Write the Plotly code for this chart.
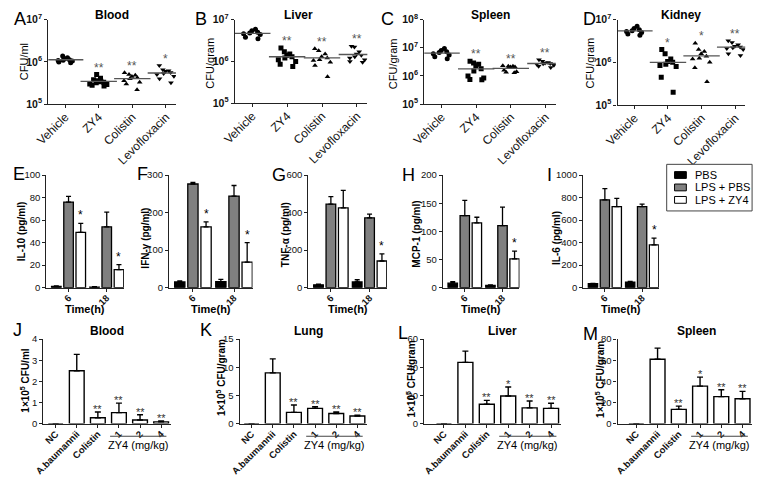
import plotly.graph_objects as go
import numpy as np

W, H = 757, 483
FONT = "Liberation Sans, Arial, Helvetica, sans-serif"

# ---------------- Row 1 : bacterial load (log scale) ----------------
groups1 = ["Vehicle", "ZY4", "Colistin", "Levofloxacin"]

blood_vehicle = [1.38e6, 1.25e6, 1.18e6, 1.12e6, 1.08e6, 1.05e6, 1.0e6, 0.96e6, 1.1e6]
blood_zy4 = [5.0e5, 4.1e5, 3.8e5, 3.6e5, 3.5e5, 3.4e5, 3.3e5, 3.2e5, 3.0e5, 2.9e5, 2.8e5, 2.7e5]
blood_colistin = [5.5e5, 5.0e5, 4.8e5, 4.5e5, 4.2e5, 4.0e5, 3.6e5, 3.3e5, 3.0e5, 2.2e5]
blood_levo = [8.2e5, 6.5e5, 6.2e5, 6.0e5, 5.6e5, 5.3e5, 5.0e5, 4.6e5, 4.0e5, 3.2e5]
blood_stars = ["", "**", "**", "*"]

liver_vehicle = [5.9e6, 5.4e6, 5.0e6, 4.8e6, 4.6e6, 4.4e6, 3.8e6, 3.5e6]
liver_zy4 = [2.1e6, 1.7e6, 1.5e6, 1.4e6, 1.3e6, 1.2e6, 1.1e6, 1.0e6, 0.85e6, 0.76e6]
liver_colistin = [2.0e6, 1.8e6, 1.5e6, 1.3e6, 1.2e6, 1.1e6, 1.05e6, 0.95e6, 0.8e6, 0.43e6]
liver_levo = [2.3e6, 2.2e6, 1.7e6, 1.5e6, 1.4e6, 1.3e6, 1.2e6, 1.1e6, 1.0e6, 0.95e6]
liver_stars = ["", "**", "**", "**"]

spleen_vehicle = [9.5e6, 8.0e6, 7.2e6, 6.8e6, 6.2e6, 5.6e6, 4.8e6, 4.1e6]
spleen_zy4 = [3.3e6, 2.9e6, 2.6e6, 2.3e6, 1.8e6, 1.5e6, 1.0e6, 0.85e6, 0.75e6, 0.73e6]
spleen_colistin = [2.3e6, 2.2e6, 2.2e6, 2.1e6, 2.1e6, 2.0e6, 1.6e6, 1.4e6, 1.35e6, 1.3e6]
spleen_levo = [3.8e6, 3.3e6, 3.0e6, 2.9e6, 2.8e6, 2.7e6, 2.6e6, 2.4e6, 2.2e6, 2.0e6]
spleen_stars = ["", "**", "**", "**"]

kidney_vehicle = [7.0e6, 6.2e6, 5.8e6, 5.5e6, 5.3e6, 5.0e6, 4.6e6, 4.3e6]
kidney_zy4 = [2.0e6, 1.6e6, 1.2e6, 1.05e6, 1.0e6, 0.9e6, 0.85e6, 0.8e6, 0.45e6, 0.2e6]
kidney_colistin = [2.8e6, 2.0e6, 1.8e6, 1.6e6, 1.4e6, 1.25e6, 1.2e6, 1.0e6, 0.75e6, 0.35e6]
kidney_levo = [3.2e6, 2.9e6, 2.6e6, 2.4e6, 2.3e6, 2.2e6, 2.1e6, 2.0e6, 1.6e6, 1.45e6]
kidney_stars = ["", "*", "*", "**"]

# ---------------- Row 2 : cytokines ----------------
times = ["6", "18"]
series2 = ["PBS", "LPS + PBS", "LPS + ZY4"]

il10_pbs, il10_pbs_err = [1.0, 0.5], [0.5, 0.3]
il10_lps, il10_lps_err = [76, 54], [5, 13]
il10_zy4, il10_zy4_err = [49, 16], [8, 4.5]
il10_stars = ["*", "*"]

ifn_pbs, ifn_pbs_err = [15, 16], [3, 6]
ifn_lps, ifn_lps_err = [276, 244], [4, 28]
ifn_zy4, ifn_zy4_err = [162, 68], [13, 52]
ifn_stars = ["*", "*"]

tnf_pbs, tnf_pbs_err = [15, 30], [3, 12]
tnf_lps, tnf_lps_err = [445, 372], [40, 20]
tnf_zy4, tnf_zy4_err = [425, 142], [93, 38]
tnf_stars = ["", "*"]

mcp_pbs, mcp_pbs_err = [8, 4], [2.5, 1]
mcp_lps, mcp_lps_err = [128, 110], [27, 33]
mcp_zy4, mcp_zy4_err = [115, 51], [10, 14]
mcp_stars = ["", "*"]

il6_pbs, il6_pbs_err = [35, 48], [3, 8]
il6_lps, il6_lps_err = [780, 720], [100, 22]
il6_zy4, il6_zy4_err = [720, 380], [72, 60]
il6_stars = ["", "*"]

# ---------------- Row 3 : dose response ----------------
groups3 = ["NC", "A.baumannii", "Colistin", "1", "2", "4"]
j_blood, j_blood_err = [0, 2.5, 0.28, 0.52, 0.17, 0.08], [0, 0.78, 0.27, 0.45, 0.25, 0.04]
j_stars = ["", "", "**", "**", "**", "**"]
k_lung, k_lung_err = [0, 9.0, 2.0, 2.7, 1.8, 1.35], [0, 2.5, 1.3, 0.3, 0.25, 0.15]
k_stars = ["", "", "**", "**", "**", "**"]
l_liver, l_liver_err = [0, 43.5, 13.7, 19.6, 11.2, 10.8], [0, 8, 2.8, 6.4, 4.8, 3.7]
l_stars = ["", "", "**", "*", "**", "**"]
m_spleen, m_spleen_err = [0, 61, 13.5, 35.5, 25.5, 23.5], [0, 10.5, 3, 8.5, 6.5, 7]
m_stars = ["", "", "**", "*", "**", "**"]

# ---------------------------------------------------------------
def fx(x):
    return x / W

def fy(y):
    return 1 - y / H

fig = go.Figure()
layout = {}
annotations = []
shapes = []

def names(k):
    return ("x" if k == 1 else f"x{k}"), ("y" if k == 1 else f"y{k}")

def axis_common():
    return dict(showline=True, linecolor="#222", linewidth=1.4, ticks="outside",
                ticklen=3, tickwidth=1.4, tickcolor="#222", showgrid=False,
                zeroline=False)

def set_axes(k, xdom, ydom, xrange, yrange, ytype="linear", xfont=None, yfont=None,
             ytickvals=None, yticktext=None, dtick=None, cats=None, xticktext=None):
    xn, yn = names(k)
    xa = axis_common()
    xa.update(domain=[fx(xdom[0]), fx(xdom[1])], range=xrange, anchor=yn,
              type="category", categoryorder="array", categoryarray=cats,
              tickangle=-45, tickfont=xfont, ticklabelstandoff=-3)
    if xticktext is not None:
        xa.update(tickvals=cats, ticktext=xticktext)
    ya = axis_common()
    ya.update(domain=[fy(ydom[1]), fy(ydom[0])], range=yrange, anchor=xn, type=ytype,
              tickfont=yfont)
    if ytickvals is not None:
        ya.update(tickvals=ytickvals, ticktext=yticktext)
    if dtick is not None:
        ya.update(dtick=dtick, tick0=0)
    layout["xaxis" if k == 1 else f"xaxis{k}"] = xa
    layout["yaxis" if k == 1 else f"yaxis{k}"] = ya
    return xn, yn

def letter(t, x, y):
    annotations.append(dict(text=t, x=fx(x), y=fy(y), xref="paper", yref="paper",
                            showarrow=False, font=dict(size=18, color="black", family=FONT),
                            xanchor="center", yanchor="middle"))

def text(t, x, y, size=11, bold=False, angle=0, color="black", xanchor="center"):
    s = f"<b>{t}</b>" if bold else t
    annotations.append(dict(text=s, x=fx(x), y=fy(y), xref="paper", yref="paper",
                            showarrow=False, textangle=angle,
                            font=dict(size=size, color=color, family=FONT),
                            xanchor=xanchor, yanchor="middle"))

# ---------------- Row 1 ----------------
symbols1 = ["circle", "square", "triangle-up", "triangle-down"]
row1 = [
    ("A", "Blood", "CFU/ml", [blood_vehicle, blood_zy4, blood_colistin, blood_levo], blood_stars,
     (35, 165), (12, 99), [5, 7], (6, 11), 100, (11, 55)),
    ("B", "Liver", "CFU/gram", [liver_vehicle, liver_zy4, liver_colistin, liver_levo], liver_stars,
     (225, 360), (12, 98), [5, 7], (191, 11), 290, (200, 57)),
    ("C", "Spleen", "CFU/gram", [spleen_vehicle, spleen_zy4, spleen_colistin, spleen_levo], spleen_stars,
     (418, 552), (12, 99), [5, 8], (381, 11), 485, (387, 57)),
    ("D", "Kidney", "CFU/gram", [kidney_vehicle, kidney_zy4, kidney_colistin, kidney_levo], kidney_stars,
     (615, 745), (12, 100), [5, 7], (586, 11), 680, (587, 57)),
]
for i, (L, title, ytitle, data, stars, xd, yd, yr, lpos, tx, ytpos) in enumerate(row1):
    k = i + 1
    exps = list(range(yr[0], yr[1] + 1))
    xn, yn = set_axes(k, xd, yd, [-0.5, 3.3], yr, ytype="log",
                      xfont=dict(size=12, color="#111", family=FONT),
                      yfont=dict(size=10.5, color="#111", family=FONT),
                      ytickvals=[10.0 ** e for e in exps],
                      yticktext=[f"<b>10<sup>{e}</sup></b>" for e in exps],
                      cats=groups1)
    for g, vals, sym, st in zip(groups1, data, symbols1, stars):
        fig.add_trace(go.Box(x=[g] * len(vals), y=vals, xaxis=xn, yaxis=yn,
                             boxpoints="all", jitter=0.9, pointpos=0, width=0.7,
                             fillcolor="rgba(0,0,0,0)", line=dict(color="rgba(0,0,0,0)", width=0),
                             marker=dict(symbol=sym, size=5, color="black"),
                             showlegend=False, hoverinfo="y"))
        fig.add_trace(go.Scatter(x=[g], y=[float(np.mean(vals))], xaxis=xn, yaxis=yn, mode="markers",
                                 marker=dict(symbol="line-ew", size=26, color="#555",
                                             line=dict(width=1.3, color="#555")),
                                 showlegend=False, hoverinfo="skip"))
        if st:
            annotations.append(dict(text=st, x=groups1.index(g), y=float(np.log10(max(vals))),
                                    xref=xn, yref=yn, showarrow=False, yanchor="bottom", yshift=-2,
                                    font=dict(size=12, color="#555", family=FONT)))
    letter(L, *lpos)
    text(title, tx, 7, size=12, bold=True)
    text(ytitle, ytpos[0], ytpos[1], size=11, angle=-90)

# ---------------- Row 2 ----------------
colors2 = ["black", "#808080", "white"]
offsets2 = [-0.32, 0.0, 0.32]
bw2 = 0.25
row2 = [
    ("E", "IL-10 (pg/ml)", [il10_pbs, il10_lps, il10_zy4], [il10_pbs_err, il10_lps_err, il10_zy4_err],
     il10_stars, (33, 112), [0, 100], 20, (5, 171), (7, 230)),
    ("F", "IFN-γ (pg/ml)", [ifn_pbs, ifn_lps, ifn_zy4], [ifn_pbs_err, ifn_lps_err, ifn_zy4_err],
     ifn_stars, (158, 243), [0, 300], 100, (131, 171), (134, 237)),
    ("G", "TNF-α (pg/ml)", [tnf_pbs, tnf_lps, tnf_zy4], [tnf_pbs_err, tnf_lps_err, tnf_zy4_err],
     tnf_stars, (300, 380), [0, 600], 200, (270, 172), (276, 233)),
    ("H", "MCP-1 (pg/ml)", [mcp_pbs, mcp_lps, mcp_zy4], [mcp_pbs_err, mcp_lps_err, mcp_zy4_err],
     mcp_stars, (437, 515), [0, 200], 50, (402, 172), (410, 233)),
    ("I", "IL-6 (pg/ml)", [il6_pbs, il6_lps, il6_zy4], [il6_pbs_err, il6_lps_err, il6_zy4_err],
     il6_stars, (580, 657), [0, 1000], 200, (546, 172), (552, 237)),
]
for i, (L, ytitle, data, errs, stars, xd, yr, dt, lpos, ytpos) in enumerate(row2):
    k = 5 + i
    xn, yn = set_axes(k, xd, (172, 288), [-0.58, 1.45], yr,
                      xfont=dict(size=9.5, color="#111", family=FONT),
                      yfont=dict(size=9.5, color="#111", family=FONT),
                      dtick=dt, cats=times, xticktext=[f"<b>{t}</b>" for t in times])
    for j, (name, vals, err, col, off) in enumerate(zip(series2, data, errs, colors2, offsets2)):
        fig.add_trace(go.Bar(x=times, y=vals, xaxis=xn, yaxis=yn, name=name,
                             width=bw2, offset=off - bw2 / 2,
                             marker=dict(color=col, line=dict(color="black", width=1.3)),
                             error_y=dict(type="data", array=err, arrayminus=[0] * len(err),
                                          symmetric=False, color="black", thickness=1.3, width=2.5),
                             showlegend=False, hoverinfo="y"))
    for ti, st in enumerate(stars):
        if st:
            annotations.append(dict(text=st, x=ti + offsets2[2], y=data[2][ti] + errs[2][ti],
                                    xref=xn, yref=yn, showarrow=False, yanchor="bottom", yshift=-1,
                                    font=dict(size=12, color="black", family=FONT)))
    letter(L, *lpos)
    text(ytitle, ytpos[0], ytpos[1], size=10, bold=True, angle=-90)
    text("Time(h)", (xd[0] + xd[1]) / 2, 310, size=11, bold=True)

# manual legend box (PBS / LPS + PBS / LPS + ZY4)
shapes.append(dict(type="rect", xref="paper", yref="paper", x0=fx(665), x1=fx(752),
                   y0=fy(209), y1=fy(161), line=dict(color="#444", width=1), fillcolor="white"))
for j, (name, col) in enumerate(zip(series2, colors2)):
    cy = 172 + 12.8 * j
    shapes.append(dict(type="rect", xref="paper", yref="paper", x0=fx(673), x1=fx(685),
                       y0=fy(cy + 3.5), y1=fy(cy - 3.5), fillcolor=col,
                       line=dict(color="black", width=1)))
    text(name, 692, cy, size=11, xanchor="left")

# ---------------- Row 3 ----------------
row3 = [
    ("J", "Blood", "1×10<sup>5</sup> CFU/ml", j_blood, j_blood_err, j_stars, (30, 160),
     [-0.58, 5.47], [0, 4], 1, (4, 332), 95, (11, 384)),
    ("K", "Lung", "1×10<sup>5</sup> CFU/gram", k_lung, k_lung_err, k_stars, (230, 360),
     [-0.56, 5.47], [0, 15], 5, (196, 332), 300, (211, 381)),
    ("L", "Liver", "1×10<sup>5</sup> CFU/gram", l_liver, l_liver_err, l_stars, (418, 557),
     [-0.92, 5.45], [0, 60], 20, (396, 335), 498, (404, 382)),
    ("M", "Spleen", "1×10<sup>5</sup> CFU/gram", m_spleen, m_spleen_err, m_stars, (615, 752),
     [-0.88, 5.45], [0, 80], 20, (587, 336), 695, (597, 382)),
]
for i, (L, title, ytitle, vals, err, stars, xd, xr, yr, dt, lpos, tx, ytpos) in enumerate(row3):
    k = 10 + i
    xn, yn = set_axes(k, xd, (341, 428), xr, yr,
                      xfont=dict(size=9.5, color="#111", family=FONT),
                      yfont=dict(size=9.5, color="#111", family=FONT),
                      dtick=dt, cats=groups3, xticktext=[f"<b>{g}</b>" for g in groups3])
    fig.add_trace(go.Bar(x=groups3, y=vals, xaxis=xn, yaxis=yn, width=0.7,
                         marker=dict(color="white", line=dict(color="black", width=1.4)),
                         error_y=dict(type="data", array=err, arrayminus=[0] * len(err),
                                      symmetric=False, color="black", thickness=1.4, width=3),
                         showlegend=False, hoverinfo="y"))
    for gi, (v, e, st) in enumerate(zip(vals, err, stars)):
        if st:
            annotations.append(dict(text=st, x=gi, y=v + e, xref=xn, yref=yn, showarrow=False,
                                    yanchor="bottom", yshift=-5,
                                    font=dict(size=11, color="#333", family=FONT)))
    # bracket under the ZY4 doses
    i1, i4 = groups3.index("1"), groups3.index("4")
    shapes.append(dict(type="line", xref=xn, yref=f"{yn} domain", x0=i1 - 0.42, x1=i4 + 0.25,
                       y0=-0.15, y1=-0.15, line=dict(color="#444", width=1.2)))
    span_px = (xd[1] - xd[0]) / (xr[1] - xr[0])
    cx = xd[0] + ((i1 - 0.42 + i4 + 0.25) / 2 - xr[0]) * span_px
    text("ZY4 (mg/kg)", cx, 450, size=11, bold=False)
    letter(L, *lpos)
    text(title, tx, 333, size=12, bold=True)
    text(ytitle, ytpos[0], ytpos[1], size=10, bold=True, angle=-90)

layout.update(
    width=W, height=H, margin=dict(l=0, r=0, t=0, b=0),
    paper_bgcolor="white", plot_bgcolor="white",
    font=dict(family=FONT, color="black"),
    barmode="overlay", boxmode="overlay",
    showlegend=False,
    annotations=annotations, shapes=shapes,
)
fig.update_layout(**layout)
fig.write_html("out.html", config={"displayModeBar": False},
               post_script="document.body.style.margin='0px';document.body.style.padding='0px';")
